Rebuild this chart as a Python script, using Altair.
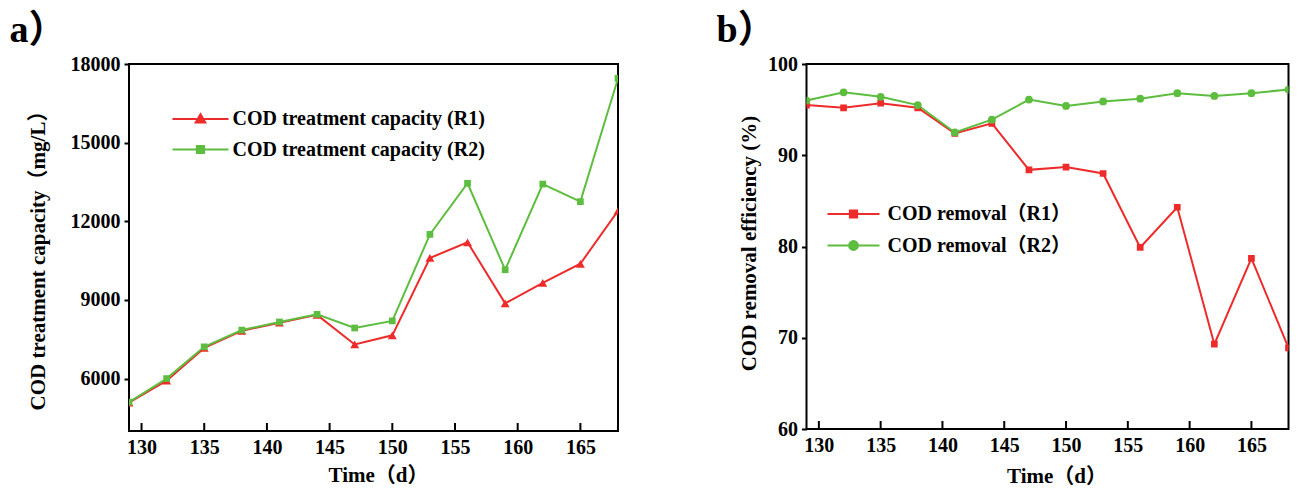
import altair as alt
import pandas as pd

# ---------------- data ----------------
days = [129, 132, 135, 138, 141, 144, 147, 150, 153, 156, 159, 162, 165, 168]
cap_r1 = [5080, 5920, 7170, 7820, 8130, 8430, 7300, 7650, 10600, 11200, 8870, 9650, 10380, 12400]
cap_r2 = [5100, 6000, 7210, 7850, 8160, 8450, 7930, 8200, 11500, 13450, 10150, 13420, 12750, 17450]
rem_r1 = [95.5, 95.2, 95.7, 95.2, 92.4, 93.5, 88.4, 88.7, 88.0, 79.9, 84.3, 69.3, 78.7, 68.9]
rem_r2 = [96.0, 96.9, 96.4, 95.5, 92.5, 93.9, 96.1, 95.4, 95.9, 96.2, 96.8, 96.5, 96.8, 97.2]
x_ticks = [130, 135, 140, 145, 150, 155, 160, 165]
cap_ticks = [6000, 9000, 12000, 15000, 18000]
rem_ticks = [60, 70, 80, 90, 100]
left_names = ["COD treatment capacity (R1)", "COD treatment capacity (R2)"]
right_names = ["COD removal（R1）", "COD removal（R2）"]
RED = "#EE2B2B"
GREEN = "#5CBD3E"

FONT = "Liberation Serif, Noto Sans CJK SC, serif"


def long_df(names, a, b):
    return pd.DataFrame({
        "day": days + days,
        "value": a + b,
        "series": [names[0]] * len(days) + [names[1]] * len(days),
    })


def panel(df, names, plot_shapes, plot_sizes, legend_paths, ydom, yvals, ytitle,
          title, W, H, ytitle_x, ytitle_y, xtitle_x, xtitle_y, legx, legy,
          label_offset, title_dx, title_dy, row_pad):
    x = alt.X("day:Q",
              scale=alt.Scale(domain=[129, 168], nice=False, zero=False),
              axis=alt.Axis(values=x_ticks, ticks=False, grid=False, domain=False,
                            title="Time（d）", labelPadding=6, format="d",
                            titleX=xtitle_x, titleY=xtitle_y, titleBaseline="middle"))
    y = alt.Y("value:Q",
              scale=alt.Scale(domain=ydom, nice=False, zero=False),
              axis=alt.Axis(values=yvals, ticks=True, tickSize=5, tickWidth=2,
                            tickColor="black", grid=False, domain=False, format="d",
                            title=ytitle, labelPadding=4,
                            titleX=ytitle_x, titleY=ytitle_y, titleBaseline="middle",
                            titleAngle=270))
    cscale = alt.Scale(domain=names, range=[RED, GREEN])
    lg = alt.Legend(
        title=None, orient="none", legendX=legx, legendY=legy,
        symbolSize=64, symbolStrokeWidth=2, symbolOpacity=1,
        labelFont=FONT, labelFontSize=20, labelFontWeight="bold",
        labelColor="black", labelOffset=label_offset, labelLimit=0,
        rowPadding=row_pad, padding=0)
    lines = alt.Chart(df).mark_line(strokeWidth=2, clip=True).encode(
        x=x, y=y, color=alt.Color("series:N", scale=cscale, legend=lg))
    pts = []
    for n, shp, sz, c in zip(names, plot_shapes, plot_sizes, [RED, GREEN]):
        pts.append(
            alt.Chart(df).transform_filter(alt.datum.series == n)
            .mark_point(shape=shp, filled=True, size=sz, opacity=1, color=c, clip=True)
            .encode(x=x, y=y))
    # invisible layer that only feeds the legend (kept well inside the plot)
    leg = alt.Chart(df).transform_filter(alt.datum.day == 150).mark_point(
        filled=True, opacity=0, strokeWidth=2).encode(
        x=x, y=y,
        color=alt.Color("series:N", scale=cscale, legend=lg),
        stroke=alt.Stroke("series:N", scale=cscale, legend=lg),
        shape=alt.Shape("series:N", scale=alt.Scale(domain=names, range=legend_paths),
                        legend=lg),
    )
    tick_df = pd.DataFrame({"day": x_ticks})
    ticks = alt.Chart(tick_df).mark_rule(color="black", strokeWidth=2).encode(
        x=x, y=alt.value(H), y2=alt.value(H - 8))
    return alt.layer(lines, *pts, leg, ticks).properties(
        width=W, height=H,
        title=alt.TitleParams(title, anchor="start", frame="bounds", fontSize=38,
                              font=FONT, fontWeight="bold", color="black",
                              dx=title_dx, dy=title_dy, offset=4),
    )


tri = "M-1.2,0.9L0,-1.2L1.2,0.9Z"
sq = "M-0.9,-0.9H0.9V0.9H-0.9Z"
circ = "M-1.1,0A1.1,1.1,0,1,0,1.1,0A1.1,1.1,0,1,0,-1.1,0Z"
left_paths = ["M-7,0H7" + tri, "M-7,0H7" + sq]
right_paths = ["M-6.5,0H6.5" + sq, "M-6.5,0H6.5" + circ]

left = panel(long_df(left_names, cap_r1, cap_r2), left_names,
             ["triangle-up", "square"], [80, 45], left_paths,
             [4000, 18000], cap_ticks, "COD treatment capacity（mg/L）", "a）",
             489, 367, -91, 191, 249, 44, 61.5, 45, 22, -17.5, 0, 10.5)
right = panel(long_df(right_names, rem_r1, rem_r2), right_names,
              ["square", "circle"], [45, 60], right_paths,
              [60, 100], rem_ticks, "COD removal efficiency (%)", "b）",
              482, 365, -57, 179, 250, 47, 37, 140, 24, -22, 0, 11.5)

chart = alt.hconcat(left, right, spacing=96.5).resolve_scale(
    color="independent", shape="independent", stroke="independent"
).resolve_legend(
    color="independent", shape="independent", stroke="independent"
).properties(
    padding={"left": 0, "top": 3, "right": 0, "bottom": 0},
    background="white",
).configure_view(stroke="black", strokeWidth=2).configure_axis(
    labelFont=FONT, labelFontSize=20, labelFontWeight="bold", labelColor="black",
    titleFont=FONT, titleFontSize=21, titleFontWeight="bold", titleColor="black",
)

chart.save("out.html", embed_options={"renderer": "svg", "actions": False})
